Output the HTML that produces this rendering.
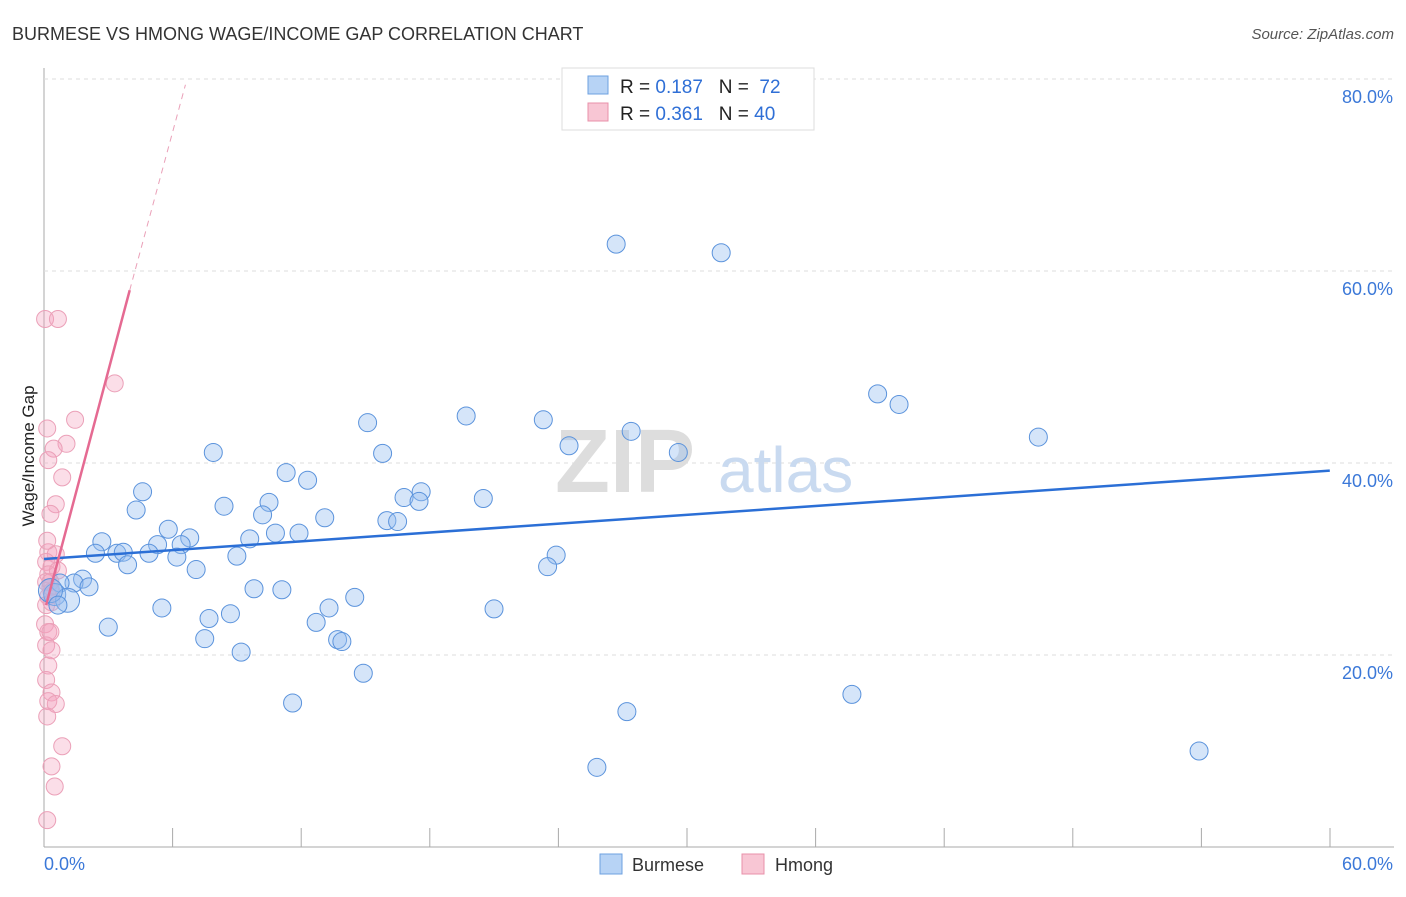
<!DOCTYPE html>
<html><head><meta charset="utf-8"><style>
body{margin:0;background:#fff;font-family:"Liberation Sans",sans-serif;}
svg text{font-family:"Liberation Sans",sans-serif;}
</style></head><body>
<svg id="c" width="1406" height="892">
<text x="12" y="40" font-size="18" fill="#333">BURMESE VS HMONG WAGE/INCOME GAP CORRELATION CHART</text>
<text x="1394" y="39" font-size="15" fill="#555" text-anchor="end" font-style="italic">Source: ZipAtlas.com</text>
<text x="34" y="456" font-size="17" fill="#222" text-anchor="middle" transform="rotate(-90 34 456)">Wage/Income Gap</text>
<g id="grid"></g>
<text x="555" y="492" font-size="90" fill="#ddd" font-family="Liberation Serif" font-weight="bold">ZIP</text>
<text x="718" y="492" font-size="64" fill="#c9daf0">atlas</text>
<g id="marks"></g>
<g>
<rect x="562" y="68" width="252" height="62" fill="#fff" stroke="#ddd"/>
<rect x="588" y="76" width="20" height="18" fill="#b7d3f5" stroke="#6ea0e0"/>
<text x="620" y="93" font-size="19" fill="#222">R = <tspan fill="#2f6fd6">0.187</tspan>&#160;&#160;&#160;N = &#160;<tspan fill="#2f6fd6">72</tspan></text>
<rect x="588" y="103" width="20" height="18" fill="#f8c6d4" stroke="#e890aa"/>
<text x="620" y="120" font-size="19" fill="#222">R = <tspan fill="#2f6fd6">0.361</tspan>&#160;&#160;&#160;N = <tspan fill="#2f6fd6">40</tspan></text>
</g>
<g>
<rect x="600" y="854" width="22" height="20" fill="#b7d3f5" stroke="#6ea0e0"/>
<text x="632" y="871" font-size="18" fill="#333">Burmese</text>
<rect x="742" y="854" width="22" height="20" fill="#f8c6d4" stroke="#e890aa"/>
<text x="775" y="871" font-size="18" fill="#333">Hmong</text>
</g>
</svg>
<script>
const yTicks=[20,40,60,80];
const xTickLabels=["0.0%","60.0%"];
const burmeseX=[26.7,31.6,38.9,39.9,46.4,19.7,23.3,15.1,27.4,24.5,29.6,7.9,15.8,11.3,12.3,4.6,17.6,16.8,20.5,10.5,17.5,8.4,4.3,10.2,13.1,16.0,16.5,5.8,10.8,11.9,6.8,9.6,2.7,5.3,6.4,2.4,3.4,3.7,4.9,9.0,6.2,23.9,3.9,23.5,7.1,1.8,1.4,2.1,9.8,11.1,14.5,5.5,13.3,21.0,8.7,7.7,12.7,3.0,7.5,13.7,13.9,9.2,14.9,11.6,37.7,27.2,25.8,53.9,0.75,0.5,1.1,0.3,0.65];
const burmeseY=[62.8,61.9,47.2,46.1,42.7,44.9,44.5,44.2,43.3,41.8,41.1,41.1,41.0,39.0,38.2,37.0,37.0,36.4,36.3,35.9,36.0,35.5,35.1,34.6,34.3,34.0,33.9,33.1,32.7,32.7,32.2,32.1,31.8,31.5,31.5,30.6,30.6,30.7,30.6,30.3,30.2,30.4,29.4,29.2,28.9,27.9,27.5,27.1,26.9,26.8,26.0,24.9,24.9,24.8,24.3,23.8,23.4,22.9,21.7,21.6,21.4,20.3,18.1,15.0,15.9,14.1,8.3,10.0,27.5,26.3,25.7,26.7,25.2];
const burmeseR=[9,9,9,9,9,9,9,9,9,9,9,9,9,9,9,9,9,9,9,9,9,9,9,9,9,9,9,9,9,9,9,9,9,9,9,9,9,9,9,9,9,9,9,9,9,9,9,9,9,9,9,9,9,9,9,9,9,9,9,9,9,9,9,9,9,9,9,9,9,11,12,12,9];
const hmongX=[0.05,0.65,3.3,1.45,0.15,1.05,0.45,0.2,0.85,0.55,0.3,0.2,0.55,0.1,0.35,0.2,0.65,0.1,0.3,0.2,0.35,0.05,0.2,0.1,0.35,0.2,0.1,0.35,0.2,0.55,0.15,0.85,0.35,0.5,0.15,0.3,0.15,0.35,0.1,0.3];
const hmongY=[55.0,55.0,48.3,44.5,43.6,42.0,41.5,40.3,38.5,35.7,34.7,30.7,30.5,29.7,29.2,28.4,28.8,27.6,27.1,26.1,25.5,23.2,22.4,21.0,20.5,18.9,17.4,16.1,15.2,14.9,13.6,10.5,8.4,6.3,2.8,27.6,31.9,26.6,25.2,22.4];
const blueLine=[0,30.0,60,39.2];
const pinkLine=[0.1,25.2,4.0,58.0,6.6,79.4];
const X=v=>44+v*21.43, Y=v=>847-v*9.6;
const ns="http://www.w3.org/2000/svg";
const svg=document.getElementById('c'),grid=document.getElementById('grid'),marks=document.getElementById('marks');
function mk(t,a,p){const e=document.createElementNS(ns,t);for(const k in a)e.setAttribute(k,a[k]);(p||svg).appendChild(e);return e;}
let e;
e=mk('line',{x1:44,y1:68,x2:44,y2:847,stroke:'#aaa'},grid);


e=mk('line',{x1:44,y1:847,x2:1394,y2:847,stroke:'#aaa'},grid);


for(let i=1;i<=10;i++){e=mk('line',{x1:44+i*128.6,y1:828,x2:44+i*128.6,y2:847,stroke:'#aaa'},grid);

}
yTicks.forEach(v=>{e=mk('line',{x1:44,y1:Y(v),x2:1394,y2:Y(v),stroke:'#ddd','stroke-dasharray':'4,4'},grid);


e=mk('text',{x:1393,y:Y(v)+24,'font-size':18,fill:'#3b78d8','text-anchor':'end'},grid);e.textContent=v.toFixed(1)+'%';

});
e=mk('text',{x:44,y:870,'font-size':18,fill:'#3b78d8'},grid);e.textContent=xTickLabels[0];


e=mk('text',{x:1393,y:870,'font-size':18,fill:'#3b78d8','text-anchor':'end'},grid);e.textContent=xTickLabels[1];


hmongX.forEach((v,i)=>{e=mk('circle',{cx:X(v),cy:Y(hmongY[i]),r:8.5,fill:'rgba(244,160,188,0.35)',stroke:'#eba0b8','stroke-width':1},marks);

});
burmeseX.forEach((v,i)=>{e=mk('circle',{cx:X(v),cy:Y(burmeseY[i]),r:burmeseR[i],fill:'rgba(150,190,240,0.4)',stroke:'#5b93dc','stroke-width':1},marks);

});
e=mk('line',{x1:X(blueLine[0]),y1:Y(blueLine[1]),x2:X(blueLine[2]),y2:Y(blueLine[3]),stroke:'#2b6fd6','stroke-width':2.5},marks);


e=mk('line',{x1:X(pinkLine[0]),y1:Y(pinkLine[1]),x2:X(pinkLine[2]),y2:Y(pinkLine[3]),stroke:'#e56a92','stroke-width':2.5},marks);


e=mk('line',{x1:X(pinkLine[2]),y1:Y(pinkLine[3]),x2:X(pinkLine[4]),y2:Y(pinkLine[5]),stroke:'#eaa0b8','stroke-width':1,'stroke-dasharray':'6,5'},marks);


</script>
</body></html>
